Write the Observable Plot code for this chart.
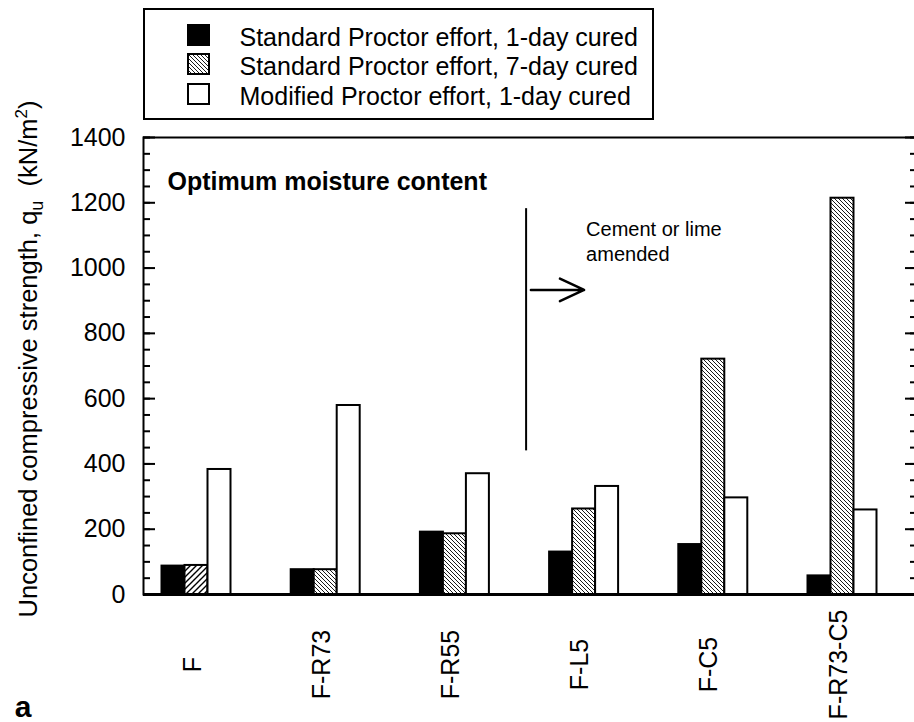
<!DOCTYPE html>
<html>
<head>
<meta charset="utf-8">
<script src="https://cdn.jsdelivr.net/npm/d3@7"></script>
<script src="https://cdn.jsdelivr.net/npm/@observablehq/plot@0.6"></script>
<style>
  html, body { margin: 0; padding: 0; background: #fff; overflow: hidden; }
  #wrap { position: relative; width: 914px; height: 722px; font-family: "Liberation Sans", Arial, Helvetica, sans-serif; color: #000; }
  #chart { position: absolute; left: 0; top: 0; }
  #legend { position: absolute; left: 143px; top: 8px; width: 511px; height: 112px; box-sizing: border-box;
            border: 2.5px solid #000; background: #fff; padding: 12.8px 0 0 41.5px;
            font-size: 25px; line-height: 29.5px; white-space: nowrap; }
  #legend .sw { display: inline-block; vertical-align: baseline; margin-right: 30px; }
</style>
</head>
<body>
<svg width="0" height="0" style="position:absolute">
  <defs>
    <pattern id="hatchB" patternUnits="userSpaceOnUse" width="4" height="4">
      <rect width="4" height="4" fill="white"/>
      <path d="M-1,-1 L5,5 M-1,3 L1,5 M3,-1 L5,1" stroke="black" stroke-width="0.9"/>
    </pattern>
    <pattern id="hatchF" patternUnits="userSpaceOnUse" width="6" height="6">
      <rect width="6" height="6" fill="white"/>
      <path d="M-1,7 L7,-1 M-1,1 L1,-1 M5,7 L7,5" stroke="black" stroke-width="1.4"/>
    </pattern>
  </defs>
</svg>
<div id="wrap">
  <div id="chart"></div>
  <div id="legend"></div>
</div>
<script>
// ---- data ----
const categories = ["F", "F-R73", "F-R55", "F-L5", "F-C5", "F-R73-C5"];
const seriesNames = [
  "Standard Proctor effort, 1-day cured",
  "Standard Proctor effort, 7-day cured",
  "Modified Proctor effort, 1-day cured"
];
const std1Day = [87, 76, 191, 130, 153, 57];
const std7Day = [89, 76, 186, 262, 721, 1214];
const mod1Day = [383, 579, 370, 331, 296, 259];
const yMajorTicks = [0, 200, 400, 600, 800, 1000, 1200, 1400];
const yMinorTicks = d3.range(0, 1401, 50);
const panelNote = "Optimum moisture content";
const dividerLine = [{at: "F-L5", from: 440, to: 1182}];
const amendArrow = [{from: "F-R55", to: "F-L5", y: 933}];
const amendNote = [{at: "F-L5", y: 1153, text: "Cement or lime\namended"}];
const yTitleMain = "Unconfined compressive strength, q";
const yTitleSub = "u";
const yTitleUnit = "(kN/m";
const yTitleSup = "2";
const panelLetter = "a";

// ---- table ----
const table = categories.map((c, i) => ({category: c, std1: std1Day[i], std7: std7Day[i], mod1: mod1Day[i]}));

const chart = Plot.plot({
  width: 914,
  height: 722,
  marginTop: 137,
  marginBottom: 128,
  marginLeft: 143,
  marginRight: -2,
  style: {fontFamily: "'Liberation Sans', Arial, Helvetica, sans-serif", background: "white", color: "black"},
  x: {type: "band", domain: categories, range: [131.4, 906.6], paddingInner: 0.466, paddingOuter: 0.233, round: false, axis: null},
  y: {domain: [0, 1400], label: null},
  marks: [
    Plot.barY(table, {x: "category", y: "std1", fill: "black", stroke: "black", strokeWidth: 2, insetRight: 46}),
    Plot.barY(table.filter(d => d.category === "F"), {x: "category", y: "std7", fill: "url(#hatchF)", stroke: "black", strokeWidth: 2, insetLeft: 23, insetRight: 23}),
    Plot.barY(table.filter(d => d.category !== "F"), {x: "category", y: "std7", fill: "url(#hatchB)", stroke: "black", strokeWidth: 2, insetLeft: 23, insetRight: 23}),
    Plot.barY(table, {x: "category", y: "mod1", fill: "white", stroke: "black", strokeWidth: 2, insetLeft: 46}),
    Plot.frame({stroke: "black", strokeWidth: 2}),
    Plot.ruleY([0], {stroke: "black", strokeWidth: 3}),
    Plot.axisY({ticks: yMajorTicks, anchor: "left", tickSize: -12, tickPadding: 30, tickFormat: d => String(d), strokeWidth: 2, fontSize: 25, label: null}),
    Plot.axisY({ticks: yMinorTicks, anchor: "left", tickSize: -7, tickFormat: () => "", strokeWidth: 2, label: null}),
    Plot.axisY({ticks: yMajorTicks, anchor: "right", tickSize: -12, tickFormat: () => "", strokeWidth: 2, label: null}),
    Plot.axisY({ticks: yMinorTicks, anchor: "right", tickSize: -7, tickFormat: () => "", strokeWidth: 2, label: null}),
    Plot.text(categories, {x: d => d, frameAnchor: "bottom", dy: 70, dx: 4, rotate: -90, fontSize: 25, fill: "black"}),
    Plot.text([panelNote], {frameAnchor: "top-left", textAnchor: "start", dx: 24, dy: 35, fontSize: 25, fontWeight: "bold", fill: "black"}),
    Plot.ruleX(dividerLine, {x: "at", y1: "from", y2: "to", dx: -58, stroke: "black", strokeWidth: 2}),
    Plot.arrow(amendArrow, {x1: "from", x2: "to", y1: "y", y2: "y", insetStart: 76, insetEnd: 0, headLength: 16, headAngle: 50, stroke: "black", strokeWidth: 2.5, bend: 0}),
    Plot.text(amendNote, {x: "at", y: "y", text: "text", textAnchor: "start", lineAnchor: "top", dx: 2, fontSize: 20, lineHeight: 1.25, fill: "black"})
  ]
});

// y-axis title with subscript/superscript
const svg = d3.select(chart);
const t = svg.append("text")
  .attr("transform", "translate(37,359) rotate(-90)")
  .attr("text-anchor", "middle")
  .attr("font-size", 25.5)
  .attr("fill", "black");
t.append("tspan").text(yTitleMain);
t.append("tspan").attr("dy", 6).attr("font-size", 18).text(yTitleSub);
t.append("tspan").attr("dy", -6).text("\u00a0\u00a0" + yTitleUnit);
t.append("tspan").attr("dy", -10).attr("font-size", 17).text(yTitleSup);
t.append("tspan").attr("dy", 10).text(")");

svg.append("text")
  .attr("x", 23).attr("y", 717)
  .attr("font-size", 30).attr("font-weight", "bold").attr("fill", "black")
  .text(panelLetter);

document.getElementById("chart").appendChild(chart);

// legend
const legendFills = ["black", "url(#hatchB)", "white"];
const legend = d3.select("#legend");
seriesNames.forEach((name, i) => {
  const row = legend.append("div");
  const sw = row.append("svg").attr("class", "sw").attr("width", 23).attr("height", 22);
  sw.append("rect").attr("x", 1).attr("y", 1).attr("width", 21).attr("height", 20)
    .attr("fill", legendFills[i]).attr("stroke", "black").attr("stroke-width", 2);
  row.append("span").text(name);
});
</script>
</body>
</html>
